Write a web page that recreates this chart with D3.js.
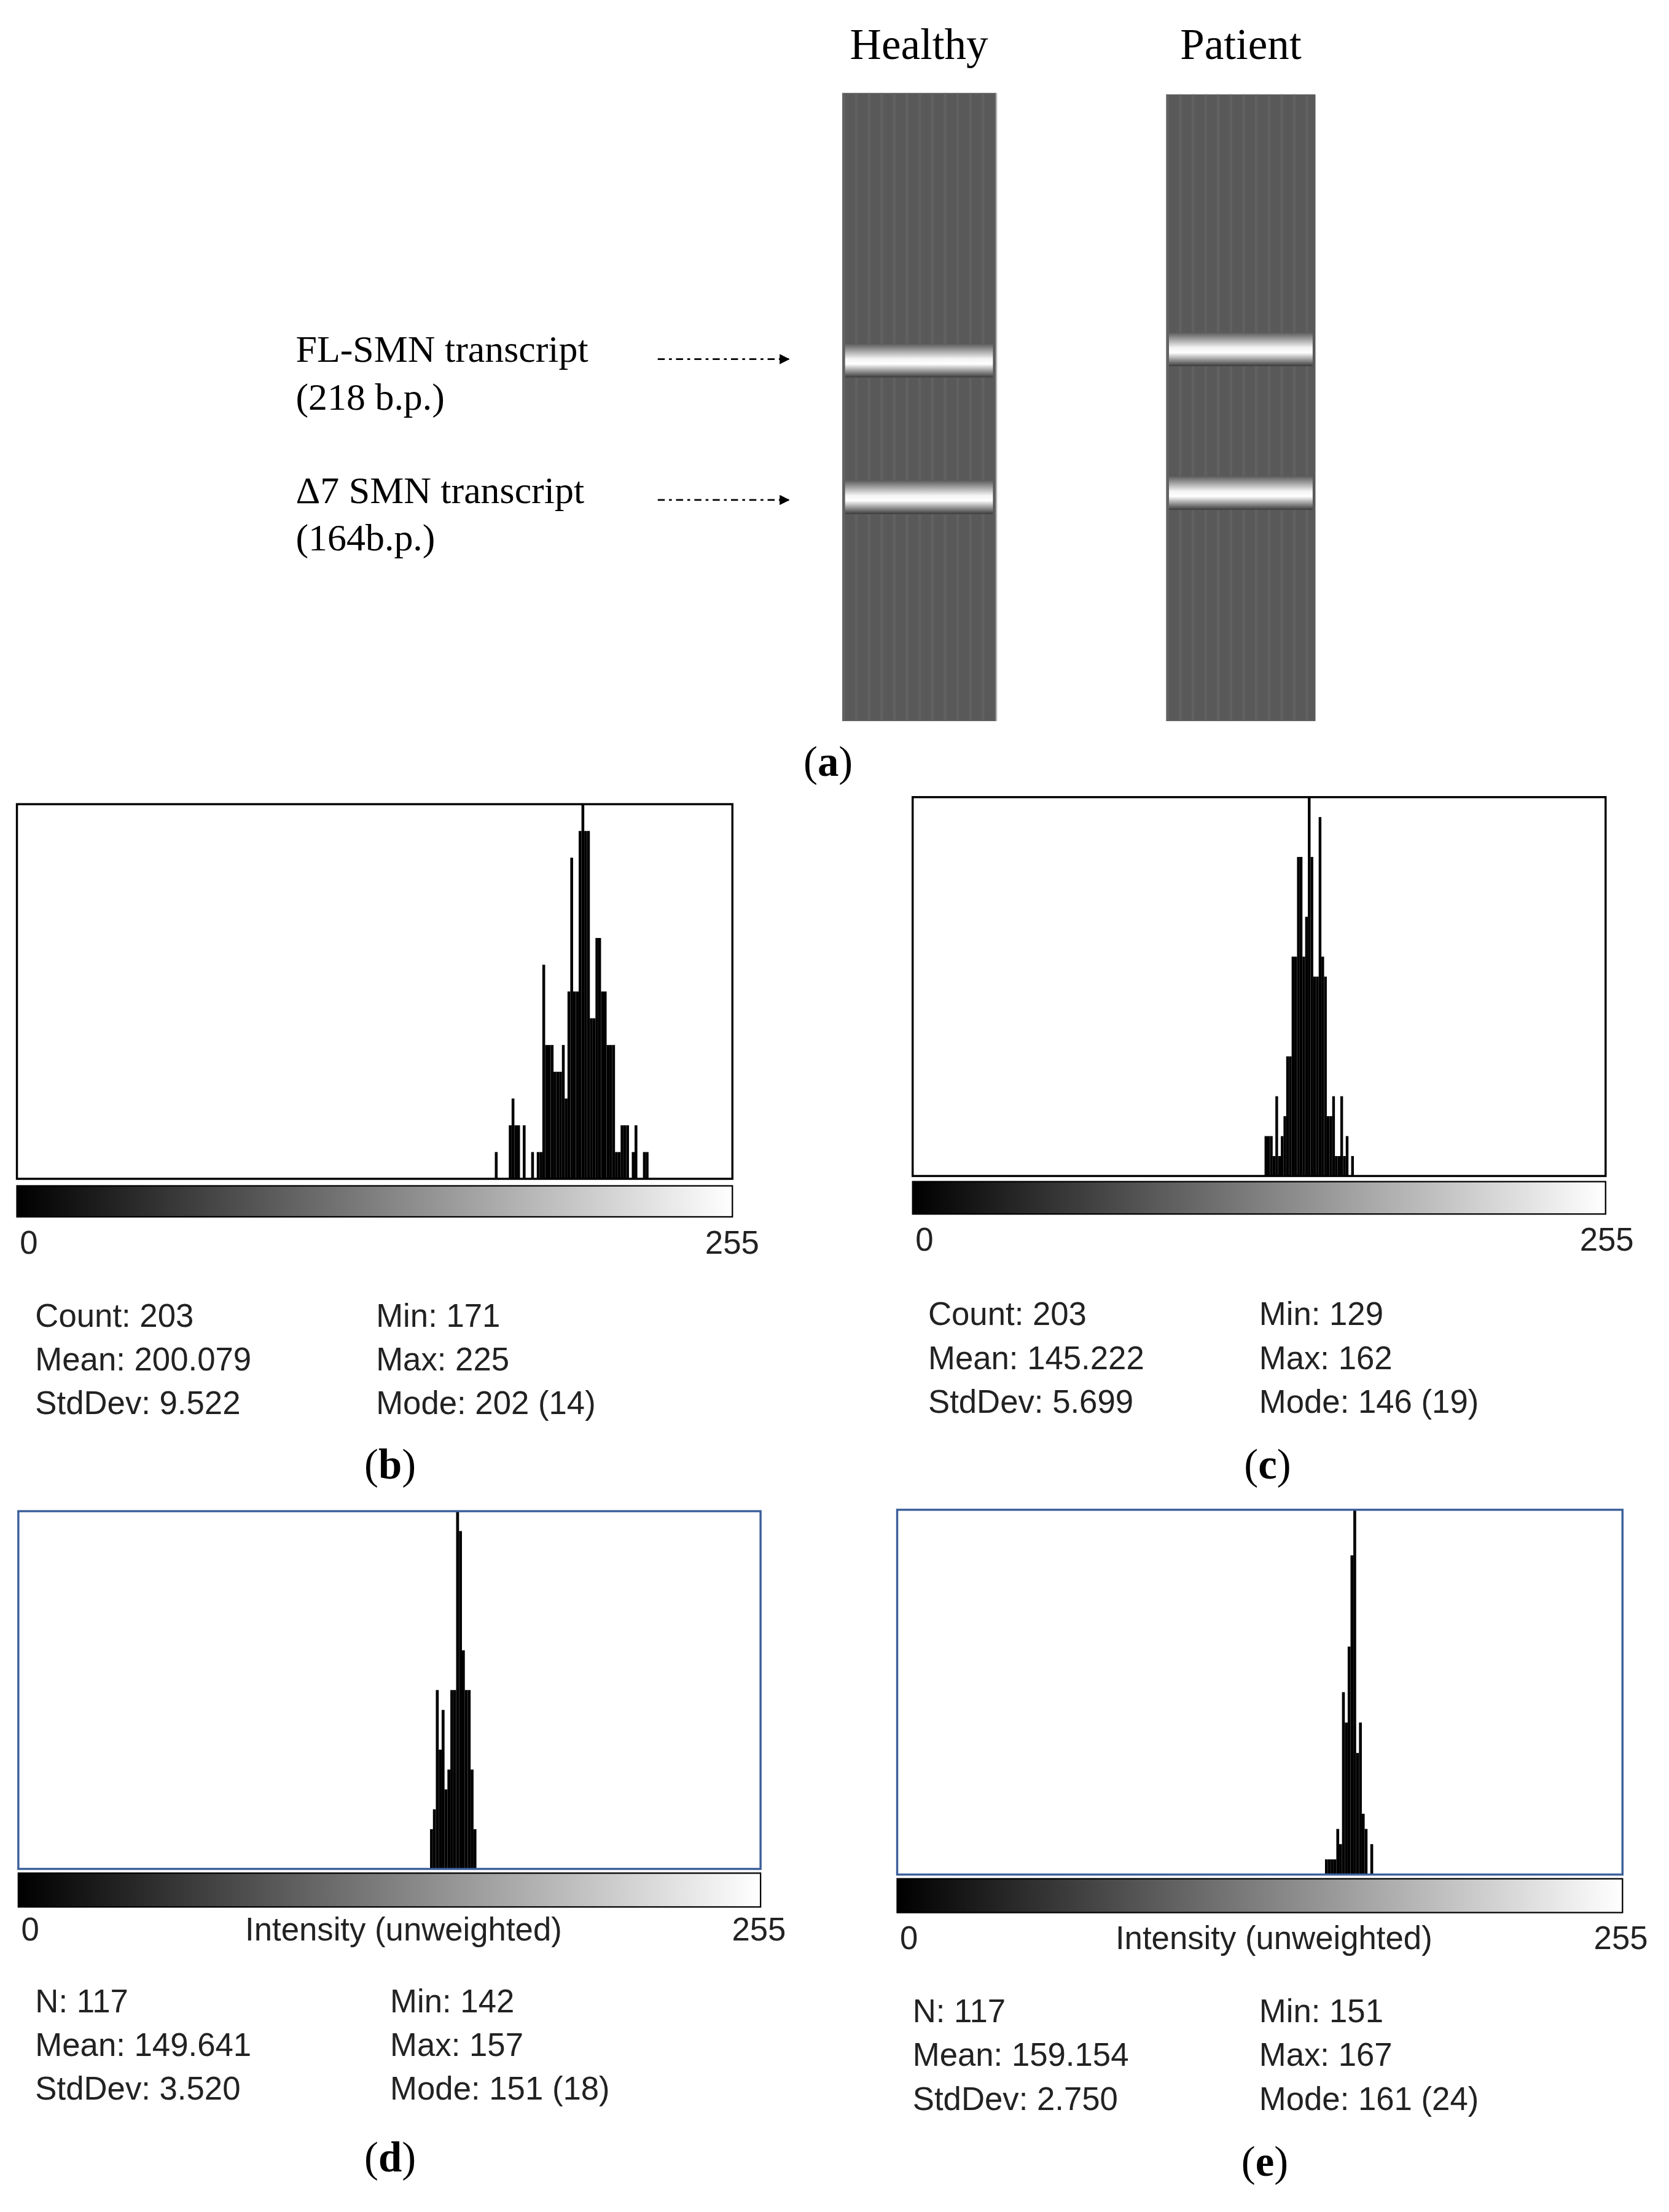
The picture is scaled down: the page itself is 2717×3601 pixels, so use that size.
<!DOCTYPE html>
<html><head><meta charset="utf-8">
<script src="https://cdn.jsdelivr.net/npm/d3@7"></script>
<style>body{margin:0;background:#fff}</style></head>
<body><svg id="c"></svg>
<script>
const histB_vals = d3.range(171,226);
const histB_counts = [1,0,0,0,0,2,3,2,2,0,2,0,0,1,0,1,1,8,5,5,5,4,4,4,5,3,7,12,7,7,13,14,13,13,6,6,9,9,7,7,5,5,5,1,1,2,2,2,0,1,2,0,0,1,1];
const histC_vals = d3.range(129,163);
const histC_counts = [0,2,2,2,1,4,1,2,3,6,6,11,11,16,16,11,13,19,16,10,10,18,11,10,3,3,4,1,1,4,1,2,0,1];
const histD_vals = d3.range(142,158);
const histD_counts = [2,3,9,6,8,4,5,9,9,18,17,11,9,9,5,2];
const histE_vals = d3.range(151,168);
const histE_counts = [1,1,1,1,3,2,12,10,15,21,24,8,10,4,3,0,2];
const statsB = [["Count: 203","Mean: 200.079","StdDev: 9.522"],["Min: 171","Max: 225","Mode: 202 (14)"]];
const statsC = [["Count: 203","Mean: 145.222","StdDev: 5.699"],["Min: 129","Max: 162","Mode: 146 (19)"]];
const statsD = [["N: 117","Mean: 149.641","StdDev: 3.520"],["Min: 142","Max: 157","Mode: 151 (18)"]];
const statsE = [["N: 117","Mean: 159.154","StdDev: 2.750"],["Min: 151","Max: 167","Mode: 161 (24)"]];
const gelLanes = ["Healthy","Patient"];
const bandLabels = [["FL-SMN transcript","(218 b.p.)"],["\u03947 SMN transcript","(164b.p.)"]];

const svg = d3.select("#c").attr("width",2717).attr("height",3601).attr("viewBox","0 0 1185 1570.6");
const defs = svg.append("defs");
const serif = "'Liberation Serif','DejaVu Serif',serif";
const sans = "'Liberation Sans',Arial,sans-serif";

// gray ramp gradient
const g0 = defs.append("linearGradient").attr("id","ramp");
g0.append("stop").attr("offset","0").attr("stop-color","#000");
g0.append("stop").attr("offset","1").attr("stop-color","#fff");
// band gradient
const bg = defs.append("linearGradient").attr("id","band").attr("x1",0).attr("x2",0).attr("y1",0).attr("y2",1);
[["0","#5a5a5a"],["0.45","#f4f4f4"],["0.6","#ffffff"],["1","#3a3a3a"]].forEach(s=>bg.append("stop").attr("offset",s[0]).attr("stop-color",s[1]));

// ---- panel a ----
const lanes = [{x:598,w:109,y:66,h:446,bands:[258,355]},{x:828,w:106,y:67,h:445,bands:[250,352]}];
lanes.forEach((l,i)=>{
  svg.append("rect").attr("x",l.x).attr("y",l.y).attr("width",l.w).attr("height",l.h).attr("fill","#595959");
  // faint streaks
  d3.range(0,l.w,9).forEach(dx=>svg.append("rect").attr("x",l.x+dx).attr("y",l.y).attr("width",2).attr("height",l.h).attr("fill","#6a6a6a").attr("opacity",0.5));
  l.bands.forEach(b=>svg.append("rect").attr("x",l.x+2).attr("y",b-14).attr("width",l.w-4).attr("height",24).attr("fill","url(#band)"));
  svg.append("text").attr("x",l.x+l.w/2).attr("y",42).attr("text-anchor","middle").attr("font-family",serif).attr("font-size",31).text(gelLanes[i]);
});
const arrowY=[255,355];
defs.append("marker").attr("id","ah").attr("viewBox","0 0 10 10").attr("refX",9).attr("refY",5).attr("markerWidth",6).attr("markerHeight",6).attr("orient","auto")
  .append("path").attr("d","M0,0L10,5L0,10z").attr("fill","#000");
bandLabels.forEach((t,i)=>{
  svg.append("text").attr("x",210).attr("y",arrowY[i]+2).attr("font-family",serif).attr("font-size",27).text(t[0]);
  svg.append("text").attr("x",210).attr("y",arrowY[i]+36).attr("font-family",serif).attr("font-size",27).text(t[1]);
  svg.append("line").attr("x1",467).attr("x2",560).attr("y1",arrowY[i]).attr("y2",arrowY[i]).attr("stroke","#000").attr("stroke-width",1.2).attr("stroke-dasharray","5,3,2,3").attr("marker-end","url(#ah)");
});
function caption(x,y,l){
  const t=svg.append("text").attr("x",x).attr("y",y).attr("text-anchor","middle").attr("font-family",serif).attr("font-size",30);
  t.append("tspan").text("(");t.append("tspan").attr("font-weight","bold").text(l);t.append("tspan").text(")");
}
caption(588,551,"a");

// ---- histograms ----
function hist(o){
  const x=d3.scaleLinear().domain([0,256]).range([o.x0,o.x1]);
  const y=d3.scaleLinear().domain([0,d3.max(o.counts)]).range([o.y1,o.y0]);
  const g=svg.append("g");
  g.selectAll("rect.bar").data(o.vals.map((v,i)=>({v,c:o.counts[i]}))).join("rect")
    .attr("x",d=>x(d.v)).attr("width",x(1)-x(0)).attr("y",d=>y(d.c)).attr("height",d=>o.y1-y(d.c)).attr("fill","#000");
  g.append("rect").attr("x",o.x0).attr("y",o.y0).attr("width",o.x1-o.x0).attr("height",o.y1-o.y0).attr("fill","none").attr("stroke",o.stroke).attr("stroke-width",1.5);
  g.append("rect").attr("x",o.x0).attr("y",o.gy).attr("width",o.x1-o.x0).attr("height",o.gh).attr("fill","url(#ramp)").attr("stroke","#000").attr("stroke-width",1);
  g.append("text").attr("x",o.x0+2).attr("y",o.ly).attr("font-family",sans).attr("font-size",23).attr("fill","#222").text("0");
  g.append("text").attr("x",o.r255).attr("y",o.ly).attr("text-anchor","end").attr("font-family",sans).attr("font-size",23).attr("fill","#222").text("255");
  if(o.label) g.append("text").attr("x",(o.x0+o.x1)/2+10).attr("y",o.ly).attr("text-anchor","middle").attr("font-family",sans).attr("font-size",23).attr("fill","#222").text(o.label);
  o.stats.forEach((col,ci)=>col.forEach((s,ri)=>g.append("text").attr("x",o.sx[ci]).attr("y",o.sy+ri*31).attr("font-family",sans).attr("font-size",23).attr("fill","#222").text(s)));
  caption(o.cx,o.cy,o.cl);
}
hist({vals:histB_vals,counts:histB_counts,x0:12,x1:520,y0:571,y1:837,gy:842,gh:22,ly:890,r255:539,stroke:"#000",stats:statsB,sx:[25,267],sy:942,cx:277,cy:1050,cl:"b"});
hist({vals:histC_vals,counts:histC_counts,x0:648,x1:1140,y0:566,y1:835,gy:839,gh:23,ly:888,r255:1160,stroke:"#000",stats:statsC,sx:[659,894],sy:941,cx:900,cy:1050,cl:"c"});
hist({vals:histD_vals,counts:histD_counts,x0:13,x1:540,y0:1073,y1:1327,gy:1330,gh:24,ly:1378,r255:558,stroke:"#3b5f9a",label:"Intensity (unweighted)",stats:statsD,sx:[25,277],sy:1429,cx:277,cy:1542,cl:"d"});
hist({vals:histE_vals,counts:histE_counts,x0:637,x1:1152,y0:1072,y1:1331,gy:1334,gh:24,ly:1384,r255:1170,stroke:"#3b5f9a",label:"Intensity (unweighted)",stats:statsE,sx:[648,894],sy:1436,cx:898,cy:1545,cl:"e"});
</script></body></html>
